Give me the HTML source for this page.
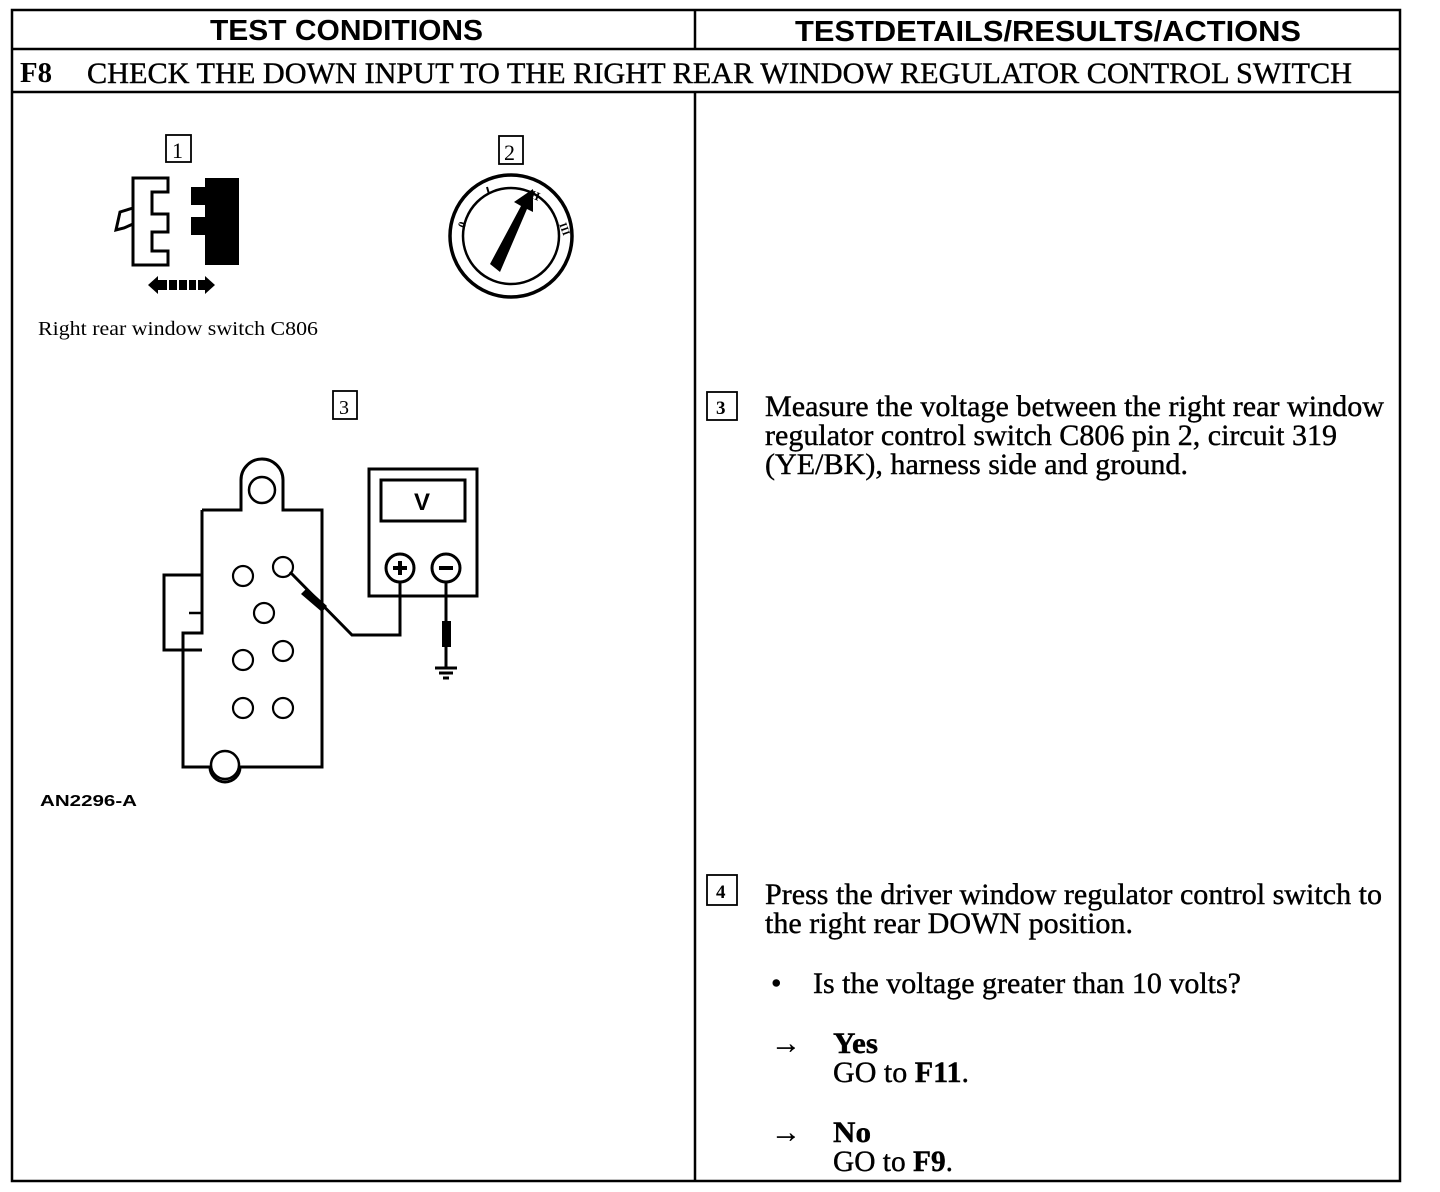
<!DOCTYPE html>
<html><head><meta charset="utf-8"><style>
html,body{margin:0;padding:0;background:#fff;}
svg{display:block;}
.s{font-family:"Liberation Serif",serif;fill:#000;}
.h{font-family:"Liberation Sans",sans-serif;font-weight:bold;fill:#000;}
</style></head><body>
<svg width="1440" height="1192" viewBox="0 0 1440 1192" xmlns="http://www.w3.org/2000/svg">
<g fill="none" stroke="#000" stroke-width="2.5">
<rect x="12" y="10" width="1388" height="1171"/>
<line x1="12" y1="49" x2="1400" y2="49"/>
<line x1="12" y1="92" x2="1400" y2="92"/>
<line x1="695" y1="10" x2="695" y2="49"/>
<line x1="695" y1="92" x2="695" y2="1181"/>
</g>
<text class="h" x="210" y="40" font-size="29" textLength="273" lengthAdjust="spacingAndGlyphs">TEST CONDITIONS</text>
<text class="h" x="795" y="41" font-size="29" textLength="506" lengthAdjust="spacingAndGlyphs">TESTDETAILS/RESULTS/ACTIONS</text>
<text class="s" x="20" y="82" font-size="29" font-weight="bold" textLength="32" lengthAdjust="spacingAndGlyphs">F8</text>
<text class="s" x="87" y="83" font-size="30" textLength="1265" lengthAdjust="spacingAndGlyphs" stroke="#000" stroke-width="0.4">CHECK THE DOWN INPUT TO THE RIGHT REAR WINDOW REGULATOR CONTROL SWITCH</text>

<g fill="none" stroke="#000" stroke-width="1.8">
<rect x="166" y="135" width="25" height="27"/>
<rect x="499" y="136" width="24" height="28"/>
<rect x="333" y="391" width="24" height="28"/>
<rect x="707" y="392" width="30" height="28"/>
<rect x="707" y="875" width="30" height="30"/>
</g>
<text class="s" x="172" y="158" font-size="22">1</text>
<text class="s" x="504" y="160" font-size="22">2</text>
<text class="s" x="339" y="414" font-size="20">3</text>
<text class="s" x="716" y="414" font-size="19" font-weight="bold">3</text>
<text class="s" x="716" y="898" font-size="19" font-weight="bold">4</text>

<path d="M133,178 H168 V192 H152 V214 H168 V232 H152 V251 H168 V265 H133 Z" fill="none" stroke="#000" stroke-width="3"/>
<path d="M133,208 L120,212 L116,230 L124,228 L133,224" fill="none" stroke="#000" stroke-width="3"/>
<path d="M205,178 H239 V265 H205 V235 H191 V217 H205 V205 H191 V187 H205 Z" fill="#000"/>
<path d="M148,285 L158,276 L158,294 Z M215,285 L205,276 L205,294 Z" fill="#000"/>
<rect x="157" y="280" width="48" height="10" fill="#000"/>
<g stroke="#fff" stroke-width="2"><line x1="168" y1="280" x2="168" y2="290"/><line x1="178" y1="280" x2="178" y2="290"/><line x1="188" y1="280" x2="188" y2="290"/><line x1="197" y1="280" x2="197" y2="290"/></g>
<text class="s" x="38" y="335" font-size="20" textLength="280" lengthAdjust="spacingAndGlyphs">Right rear window switch C806</text>

<circle cx="511" cy="236" r="61" fill="none" stroke="#000" stroke-width="3.5"/>
<circle cx="511" cy="236" r="48" fill="none" stroke="#000" stroke-width="2.5"/>
<path d="M490,264 L521,206 L514,202 L533,189 L533,212 L527,209 L500,272 Z" fill="#000"/>
<text class="s" x="460" y="226" font-size="11" font-weight="bold" transform="rotate(-70 464 224)">0</text>
<line x1="487" y1="187" x2="489" y2="194" stroke="#000" stroke-width="2"/>
<text class="s" x="531" y="199" font-size="12" font-weight="bold" transform="rotate(20 534 194)">II</text>
<text class="s" x="560" y="229" font-size="11" font-weight="bold" transform="rotate(70 563 226)">III</text>

<g fill="none" stroke="#000" stroke-width="3">
<path d="M202,510 H241 V480 A21,21 0 0 1 283,480 V510 H322 V767 H240 A15,15 0 0 1 210,767 H183 V633 H202 V510"/>
<circle cx="262" cy="490" r="13" stroke-width="2.5"/>
<circle cx="225" cy="765" r="14" stroke-width="2.5"/>
<path d="M202,575 H164 V650 H202"/>
<line x1="189" y1="613" x2="202" y2="613" stroke-width="2.5"/>
</g>
<g fill="none" stroke="#000" stroke-width="2.2">
<circle cx="243" cy="576" r="10"/><circle cx="283" cy="567" r="10"/>
<circle cx="264" cy="613" r="10"/>
<circle cx="243" cy="660" r="10"/><circle cx="283" cy="651" r="10"/>
<circle cx="243" cy="708" r="10"/><circle cx="283" cy="708" r="10"/>
</g>
<g fill="none" stroke="#000" stroke-width="3">
<rect x="369" y="469" width="108" height="127"/>
<rect x="381" y="480" width="84" height="41"/>
<circle cx="400" cy="568" r="14"/><circle cx="446" cy="568" r="14"/>
<path d="M400,582 V635 H352 L290,572"/>
<line x1="446" y1="582" x2="446" y2="668"/>
<line x1="435" y1="668" x2="457" y2="668"/>
<line x1="439" y1="673" x2="453" y2="673"/>
<line x1="443" y1="678" x2="449" y2="678"/>
</g>
<path d="M307,588 L327,606 L322,612 L301,594 Z" fill="#000"/>
<rect x="442" y="621" width="9" height="26" fill="#000"/>
<text class="h" x="414" y="510" font-size="24">V</text>
<rect x="393" y="566" width="14" height="4" fill="#000"/><rect x="398" y="561" width="4" height="14" fill="#000"/>
<rect x="439" y="566" width="14" height="4" fill="#000"/>
<text class="h" x="40" y="806" font-size="16" font-weight="normal" textLength="97" lengthAdjust="spacingAndGlyphs">AN2296-A</text>

<g class="s" font-size="30" stroke="#000" stroke-width="0.4">
<text x="765" y="416" textLength="619" lengthAdjust="spacingAndGlyphs">Measure the voltage between the right rear window</text>
<text x="765" y="445" textLength="572" lengthAdjust="spacingAndGlyphs">regulator control switch C806 pin 2, circuit 319</text>
<text x="765" y="474" textLength="423" lengthAdjust="spacingAndGlyphs">(YE/BK), harness side and ground.</text>
<text x="765" y="904" textLength="617" lengthAdjust="spacingAndGlyphs">Press the driver window regulator control switch to</text>
<text x="765" y="933" textLength="368" lengthAdjust="spacingAndGlyphs">the right rear DOWN position.</text>
<text x="771" y="993">•</text>
<text x="813" y="993" textLength="428" lengthAdjust="spacingAndGlyphs">Is the voltage greater than 10 volts?</text>
<text x="771" y="1053" textLength="30" lengthAdjust="spacingAndGlyphs">→</text>
<text x="833" y="1053" font-weight="bold" textLength="45" lengthAdjust="spacingAndGlyphs">Yes</text>
<text x="833" y="1082" textLength="136" lengthAdjust="spacingAndGlyphs">GO to <tspan font-weight="bold">F11</tspan>.</text>
<text x="771" y="1142" textLength="30" lengthAdjust="spacingAndGlyphs">→</text>
<text x="833" y="1142" font-weight="bold" textLength="38" lengthAdjust="spacingAndGlyphs">No</text>
<text x="833" y="1171" textLength="120" lengthAdjust="spacingAndGlyphs">GO to <tspan font-weight="bold">F9</tspan>.</text>
</g>
</svg>
</body></html>
